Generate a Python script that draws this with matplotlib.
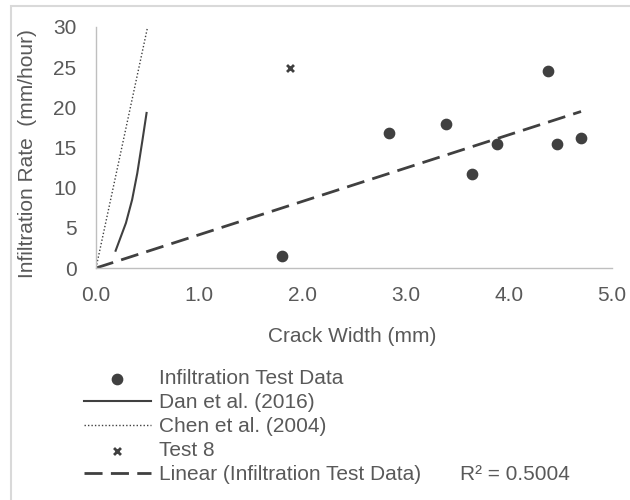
import numpy as np
import matplotlib
matplotlib.use('Agg')
import matplotlib.pyplot as plt
from matplotlib.patches import Rectangle

plt.rcParams['font.family'] = ['Liberation Sans', 'DejaVu Sans']

# infiltration test data (crack width mm, rate mm/hour)
test_w = [1.80, 2.84, 3.39, 3.64, 3.89, 4.38, 4.47, 4.70]
test_rate = [1.5, 16.85, 17.9, 11.7, 15.4, 24.5, 15.4, 16.2]

# Dan et al. (2016)
dan_w = [0.19, 0.29, 0.35, 0.40, 0.45, 0.49]
dan_rate = [2.15, 5.6, 8.5, 11.8, 15.9, 19.3]

# Chen et al. (2004)
chen_w = [0.0, 0.5]
chen_rate = [0.0, 30.0]

# Test 8
t8_w = [1.88]
t8_rate = [24.9]

r2_text = 'R² = 0.5004'

txt = '#595959'
dark = '#404040'
fs = 15

fig = plt.figure(figsize=(6.3, 5), dpi=100)
fig.patches.append(Rectangle((11/630, -0.1), 1.2, 1 - 6/500 + 0.1, transform=fig.transFigure,
                             fill=False, edgecolor='#D9D9D9', linewidth=1.5))
ax = fig.add_axes([96/630, 1 - 268/500, 516/630, 241/500])

ax.scatter(test_w, test_rate, s=55, color=dark, zorder=3, label='Infiltration Test Data')
ax.plot(dan_w, dan_rate, color=dark, lw=1.5, label='Dan et al. (2016)')
ax.plot(chen_w, chen_rate, color=dark, lw=1.0, linestyle=(0, (1, 1.5)), label='Chen et al. (2004)')
ax.scatter(t8_w, t8_rate, marker='x', s=25, color=dark, linewidths=2, zorder=3, label='Test 8')

# linear trend through origin
xw = np.array(test_w)
yr = np.array(test_rate)
slope = np.sum(xw * yr) / np.sum(xw * xw)
xs = np.array([0, xw.max()])
ax.plot(xs, slope * xs, color=dark, lw=2, dashes=(6.5, 3), label='Linear (Infiltration Test Data)')

ax.set_xlim(0, 5)
ax.set_ylim(0, 30)
ax.set_xticks(np.arange(0, 5.1, 1))
ax.set_xticklabels(['%.1f' % v for v in np.arange(0, 5.1, 1)])
ax.set_yticks(range(0, 31, 5))
ax.tick_params(length=0, labelsize=fs, labelcolor=txt)
ax.tick_params(axis='x', pad=13)
ax.tick_params(axis='y', pad=14)
for s in ['top', 'right']:
    ax.spines[s].set_visible(False)
for s in ['left', 'bottom']:
    ax.spines[s].set_color('#BFBFBF')
    ax.spines[s].set_linewidth(1)

ax.set_xlabel('Crack Width (mm)', fontsize=fs, color=txt)
ax.xaxis.set_label_coords(352/630, 1 - 327/500, transform=fig.transFigure)
ax.set_ylabel('Infiltration Rate  (mm/hour)', fontsize=fs, color=txt)
ax.yaxis.set_label_coords(37/630, 1 - 154/500, transform=fig.transFigure)

leg = fig.legend(loc='upper left', bbox_to_anchor=(84/630, 1 - 369/500), frameon=False,
                 fontsize=fs, handlelength=3.2, handletextpad=0.4, labelspacing=0.24,
                 borderpad=0, borderaxespad=0)
for t in leg.get_texts():
    t.set_color(txt)

fig.text(460/630, 1 - 474/500, r2_text, fontsize=fs, color=txt, va='center')

fig.savefig('out.png', dpi=100)
